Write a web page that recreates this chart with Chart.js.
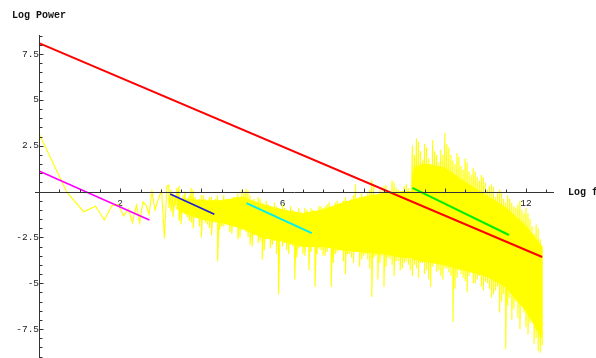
<!DOCTYPE html>
<html><head><meta charset="utf-8">
<script src="https://cdn.jsdelivr.net/npm/chart.js@4.4.0/dist/chart.umd.min.js"></script>
<style>html,body{margin:0;padding:0;background:#fff}#wrap{width:596px;height:358px}</style>
</head><body><div id="wrap"><canvas id="c" width="596" height="358"></canvas></div>
<script>
// ---- data ----
const xTicks = [2, 4, 6, 8, 10, 12];
const yTicks = [-7.5, -5, -2.5, 2.5, 5, 7.5];

// low-frequency periodogram points (log f, log power)
const lowX = [0, 0.69, 1.10, 1.39, 1.61, 1.79, 1.95, 2.08, 2.20, 2.30, 2.40, 2.48, 2.56, 2.64, 2.71, 2.78, 2.86, 2.94, 3.02, 3.09, 3.15];
const lowY = [3.15, -0.05, -1.1, -0.8, -1.55, -0.77, -0.7, -1.33, -0.97, -1.7, -0.74, -1.7, -0.56, -0.75, -1.25, 0.0, -1.0, -0.4, 0.05, -2.55, 0.3];

// dense part, first set of spike tips (upper and lower) at each log f
const denseX = [3.2,3.3,3.4,3.5,3.6,3.7,3.8,3.9,4.0,
  4.1,4.2,4.3,4.4,4.5,4.6,4.7,4.8,4.9,5.0,
  5.1,5.2,5.3,5.4,5.5,5.6,5.7,5.8,5.9,6.0,
  6.1,6.2,6.3,6.4,6.5,6.6,6.7,6.8,6.9,7.0,
  7.1,7.2,7.3,7.4,7.5,7.6,7.7,7.8,7.9,8.0,
  8.1,8.2,8.3,8.4,8.5,8.6,8.7,8.8,8.9,9.0,
  9.1,9.2,9.3,9.4,9.5,9.6,9.7,9.8,9.9,10.0,
  10.1,10.2,10.3,10.4,10.5,10.6,10.7,10.8,10.9,11.0,
  11.1,11.2,11.3,11.4,11.5,11.6,11.7,11.8,11.9,12.0,
  12.1,12.2,12.3,12.4];
const denseTop = [0.35,-0.1,0.2,-0.4,0.0,-0.2,0.1,-0.5,-0.2,
  -0.4,-0.3,-0.6,-0.2,-0.5,-0.4,-0.7,-0.3,-0.1,0.1,
  0.15,-0.2,-0.4,-0.3,-0.6,-0.5,-0.8,-0.6,-0.9,-0.7,
  -1.0,-0.8,-1.1,-0.9,-1.2,-1.0,-0.9,-1.1,-0.8,-0.9,
  -0.7,-0.9,-0.6,-0.8,-0.5,-0.7,-0.4,0.4,-0.3,-0.5,
  -0.1,0.65,-0.2,0.1,0.3,-0.1,0.6,0.2,0.0,0.3,
  0.2,2.5,2.9,2.2,2.6,1.8,2.8,2.0,2.3,3.2,
  2.4,1.7,2.1,1.4,1.8,1.1,1.3,0.8,0.9,0.5,
  0.3,0.25,-0.1,0.0,-0.6,-0.4,-0.8,-0.7,-1.0,-0.9,
  -1.5,-2.3,-2.0,-3.0];
const denseBot = [-0.9,-1.4,-1.0,-1.8,-1.2,-1.6,-2.0,-1.3,-2.5,
  -1.7,-2.0,-1.5,-3.8,-1.9,-1.6,-2.2,-1.8,-2.6,-2.1,
  -2.2,-2.9,-2.4,-2.8,-3.7,-2.6,-3.1,-2.7,-5.6,-3.0,
  -3.2,-2.9,-4.8,-3.1,-3.4,-3.0,-3.3,-5.2,-3.1,-3.5,
  -3.3,-5.2,-3.4,-3.2,-3.8,-3.4,-3.6,-3.3,-4.1,-3.5,
  -3.7,-5.75,-3.5,-3.9,-5.2,-3.6,-4.0,-3.8,-4.3,-3.9,
  -4.0,-4.6,-4.2,-3.9,-4.5,-4.8,-4.1,-4.4,-4.6,-4.2,
  -4.4,-7.1,-4.7,-4.5,-4.9,-4.6,-5.0,-4.8,-5.2,-4.9,
  -5.3,-5.6,-5.2,-6.0,-8.6,-5.8,-6.4,-6.9,-6.2,-7.4,
  -7.2,-8.3,-8.7,-8.4];

// dense part, second set of spike tips between the first ones
const dense2X = [3.25,3.35,3.45,3.55,3.65,3.75,3.85,3.95,
  4.05,4.15,4.25,4.35,4.45,4.55,4.65,4.75,4.85,4.95,
  5.05,5.15,5.25,5.35,5.45,5.55,5.65,5.75,5.85,5.95,
  6.05,6.15,6.25,6.35,6.45,6.55,6.65,6.75,6.85,6.95,
  7.05,7.15,7.25,7.35,7.45,7.55,7.65,7.75,7.85,7.95,
  8.05,8.15,8.25,8.35,8.45,8.55,8.65,8.75,8.85,8.95,
  9.05,9.15,9.25,9.35,9.45,9.55,9.65,9.75,9.85,9.95,
  10.05,10.15,10.25,10.35,10.45,10.55,10.65,10.75,10.85,10.95,
  11.05,11.15,11.25,11.35,11.45,11.55,11.65,11.75,11.85,11.95,
  12.05,12.15,12.25,12.35];
const dense2Top = [0.1,-0.3,0.3,-0.2,-0.5,0.2,-0.3,-0.4,
  -0.2,-0.6,-0.3,-0.4,-0.7,-0.2,-0.5,-0.6,-0.3,-0.4,
  -0.1,0.05,-0.5,-0.7,-0.4,-0.9,-0.7,-1.0,-0.8,-1.1,
  -0.9,-1.2,-1.0,-1.3,-1.1,-0.9,-1.2,-1.0,-1.1,-0.8,
  -0.8,-0.6,-0.9,-0.5,-0.8,-0.3,-0.6,-0.2,-0.5,-0.1,
  -0.3,0.1,0.4,-0.2,0.0,0.35,-0.1,0.5,0.1,-0.2,
  0.4,0.0,2.0,2.7,1.7,2.4,1.5,2.2,1.6,2.0,
  2.6,2.0,1.5,1.9,1.2,1.6,0.9,1.1,0.6,0.8,
  0.1,0.4,-0.3,0.1,-0.4,-0.2,-0.6,-0.9,-0.5,-1.2,
  -1.2,-1.9,-1.8,-2.6];
const dense2Bot = [-1.1,-0.8,-1.6,-1.0,-1.4,-1.7,-1.2,-1.9,
  -1.5,-1.8,-2.4,-1.7,-2.1,-1.9,-1.6,-2.3,-1.8,-2.5,
  -2.0,-2.5,-3.0,-2.3,-2.7,-3.2,-2.5,-2.9,-3.4,-2.6,
  -2.8,-3.4,-3.0,-3.6,-2.9,-3.5,-4.3,-3.0,-3.4,-3.2,
  -3.5,-3.0,-3.9,-3.3,-3.1,-4.5,-3.4,-3.9,-3.2,-3.7,
  -3.4,-4.2,-3.6,-4.8,-3.5,-4.1,-3.7,-4.6,-3.8,-4.2,
  -3.8,-4.3,-4.0,-4.7,-3.9,-4.3,-5.2,-3.9,-4.3,-4.8,
  -4.2,-4.6,-5.3,-4.3,-4.7,-5.5,-4.4,-5.0,-4.6,-5.4,
  -5.0,-5.8,-5.4,-6.6,-5.6,-6.2,-7.0,-6.0,-7.5,-6.6,
  -7.8,-6.8,-8.0,-8.8];

// solid core of the dense band
const coreX   = [3.4, 3.6, 4.0, 4.5, 5.0, 5.5, 6.0, 6.5, 7.0, 7.5, 8.0, 8.5, 9.0, 9.18, 9.25, 9.5, 10.0, 10.5, 11.0, 11.5, 12.0, 12.4];
const coreTop = [-0.4, -0.4, -0.5, -0.5, -0.3, -0.7, -1.0, -1.2, -1.0, -0.6, -0.3, -0.1, 0.0, 0.0, 1.3, 1.5, 1.3, 0.5, -0.2, -0.9, -1.9, -3.0];
const coreBot = [-0.9, -1.2, -1.5, -1.7, -2.0, -2.5, -2.7, -3.0, -3.0, -3.2, -3.3, -3.4, -3.6, -3.6, -3.7, -3.8, -4.0, -4.3, -4.6, -5.2, -6.5, -8.0];

// fitted lines: [x start, x end], [y start, y end]
const redX = [0, 12.4],      redY = [8.1, -3.57];
const magX = [0, 2.72],      magY = [1.12, -1.55];
const blueX = [3.23, 4.32],  blueY = [-0.13, -1.24];
const cyanX = [5.11, 6.72],  cyanY = [-0.63, -2.27];
const greenX = [9.2, 11.58], greenY = [0.2, -2.37];

// ---- build ----
const pairs = (xs, ys) => xs.map((v, i) => ({x: v, y: ys[i]}));
const yellowPts = pairs(lowX, lowY);
denseX.forEach((v, i) => {
  yellowPts.push({x: v, y: denseTop[i]}, {x: v, y: denseBot[i]});
  if (i < dense2X.length) yellowPts.push({x: dense2X[i], y: dense2Top[i]}, {x: dense2X[i], y: dense2Bot[i]});
});

const YEL = '#ffff00';
const datasets = [
  {data: pairs(redX, redY), borderColor: '#ff0000', borderWidth: 2},
  {data: pairs(magX, magY), borderColor: '#ff00ff', borderWidth: 1.6},
  {data: pairs(blueX, blueY), borderColor: '#1c1cd8', borderWidth: 1.6},
  {data: pairs(cyanX, cyanY), borderColor: '#00f0f0', borderWidth: 2},
  {data: pairs(greenX, greenY), borderColor: '#00ee00', borderWidth: 2},
  {data: yellowPts, borderColor: YEL, borderWidth: 1.1},
  {data: pairs(coreX, coreTop), borderColor: YEL, backgroundColor: YEL, borderWidth: 1, fill: '+1'},
  {data: pairs(coreX, coreBot), borderColor: YEL, backgroundColor: YEL, borderWidth: 1, fill: false}
];

const tickFont = {family: "'Liberation Mono', 'DejaVu Sans Mono', monospace", size: 9.5};
const noPad = s => { s.paddingTop = 0; s.paddingBottom = 0; s.paddingLeft = 0; s.paddingRight = 0; };

const axesPlugin = {
  id: 'mmaAxes',
  afterDatasetsDraw(chart) {
    const {ctx, chartArea: a, scales: {x, y}} = chart;
    const x0 = Math.round(x.getPixelForValue(0)) + 0.5;
    const y0 = Math.round(y.getPixelForValue(0)) + 0.5;
    ctx.save();
    ctx.strokeStyle = '#333';
    ctx.lineWidth = 1;
    ctx.beginPath();
    ctx.moveTo(a.left, y0); ctx.lineTo(a.right, y0);
    ctx.moveTo(x0, a.top); ctx.lineTo(x0, a.bottom);
    for (let k = 1; k * 0.5 <= x.max; k++) {
      const px = Math.round(x.getPixelForValue(k * 0.5)) + 0.5;
      const len = (k % 4 === 0) ? 4 : 3;
      ctx.moveTo(px, y0); ctx.lineTo(px, y0 - len);
    }
    for (let k = Math.ceil(y.min * 2); k * 0.5 <= y.max; k++) {
      if (k === 0) continue;
      const py = Math.round(y.getPixelForValue(k * 0.5)) + 0.5;
      const len = (k % 5 === 0) ? 4 : 3;
      ctx.moveTo(x0, py); ctx.lineTo(x0 + len, py);
    }
    ctx.stroke();
    ctx.fillStyle = '#111';
    ctx.font = "bold 10px 'Liberation Mono', 'DejaVu Sans Mono', monospace";
    ctx.textBaseline = 'middle';
    ctx.textAlign = 'left';
    ctx.fillText(chart.options.plugins.mmaAxes.yTitle, 12, 15);
    ctx.fillText(chart.options.plugins.mmaAxes.xTitle, 568, y0);
    ctx.restore();
  }
};

new Chart(document.getElementById('c'), {
  type: 'line',
  data: {datasets},
  options: {
    responsive: false,
    animation: false,
    devicePixelRatio: 1,
    layout: {padding: {left: 35, right: 42, top: 35, bottom: 0}},
    elements: {point: {radius: 0}, line: {tension: 0}},
    plugins: {legend: {display: false}, tooltip: {enabled: false}, mmaAxes: {xTitle: 'Log f', yTitle: 'Log Power'}},
    scales: {
      x: {
        type: 'linear', min: -0.1, max: 12.69, position: {y: 0},
        grid: {display: false, drawTicks: false}, border: {display: false},
        ticks: {font: tickFont, color: '#222', padding: 6, autoSkip: false, maxRotation: 0, callback: v => String(v)},
        afterBuildTicks: s => { s.ticks = xTicks.map(v => ({value: v})); },
        afterFit: noPad
      },
      y: {
        type: 'linear', min: -9.08, max: 8.54, position: {x: 0},
        grid: {display: false, drawTicks: false}, border: {display: false},
        ticks: {font: tickFont, color: '#222', padding: 7, autoSkip: false, callback: v => String(v)},
        afterBuildTicks: s => { s.ticks = yTicks.map(v => ({value: v})); },
        afterFit: noPad
      }
    }
  },
  plugins: [axesPlugin]
});
</script></body></html>
